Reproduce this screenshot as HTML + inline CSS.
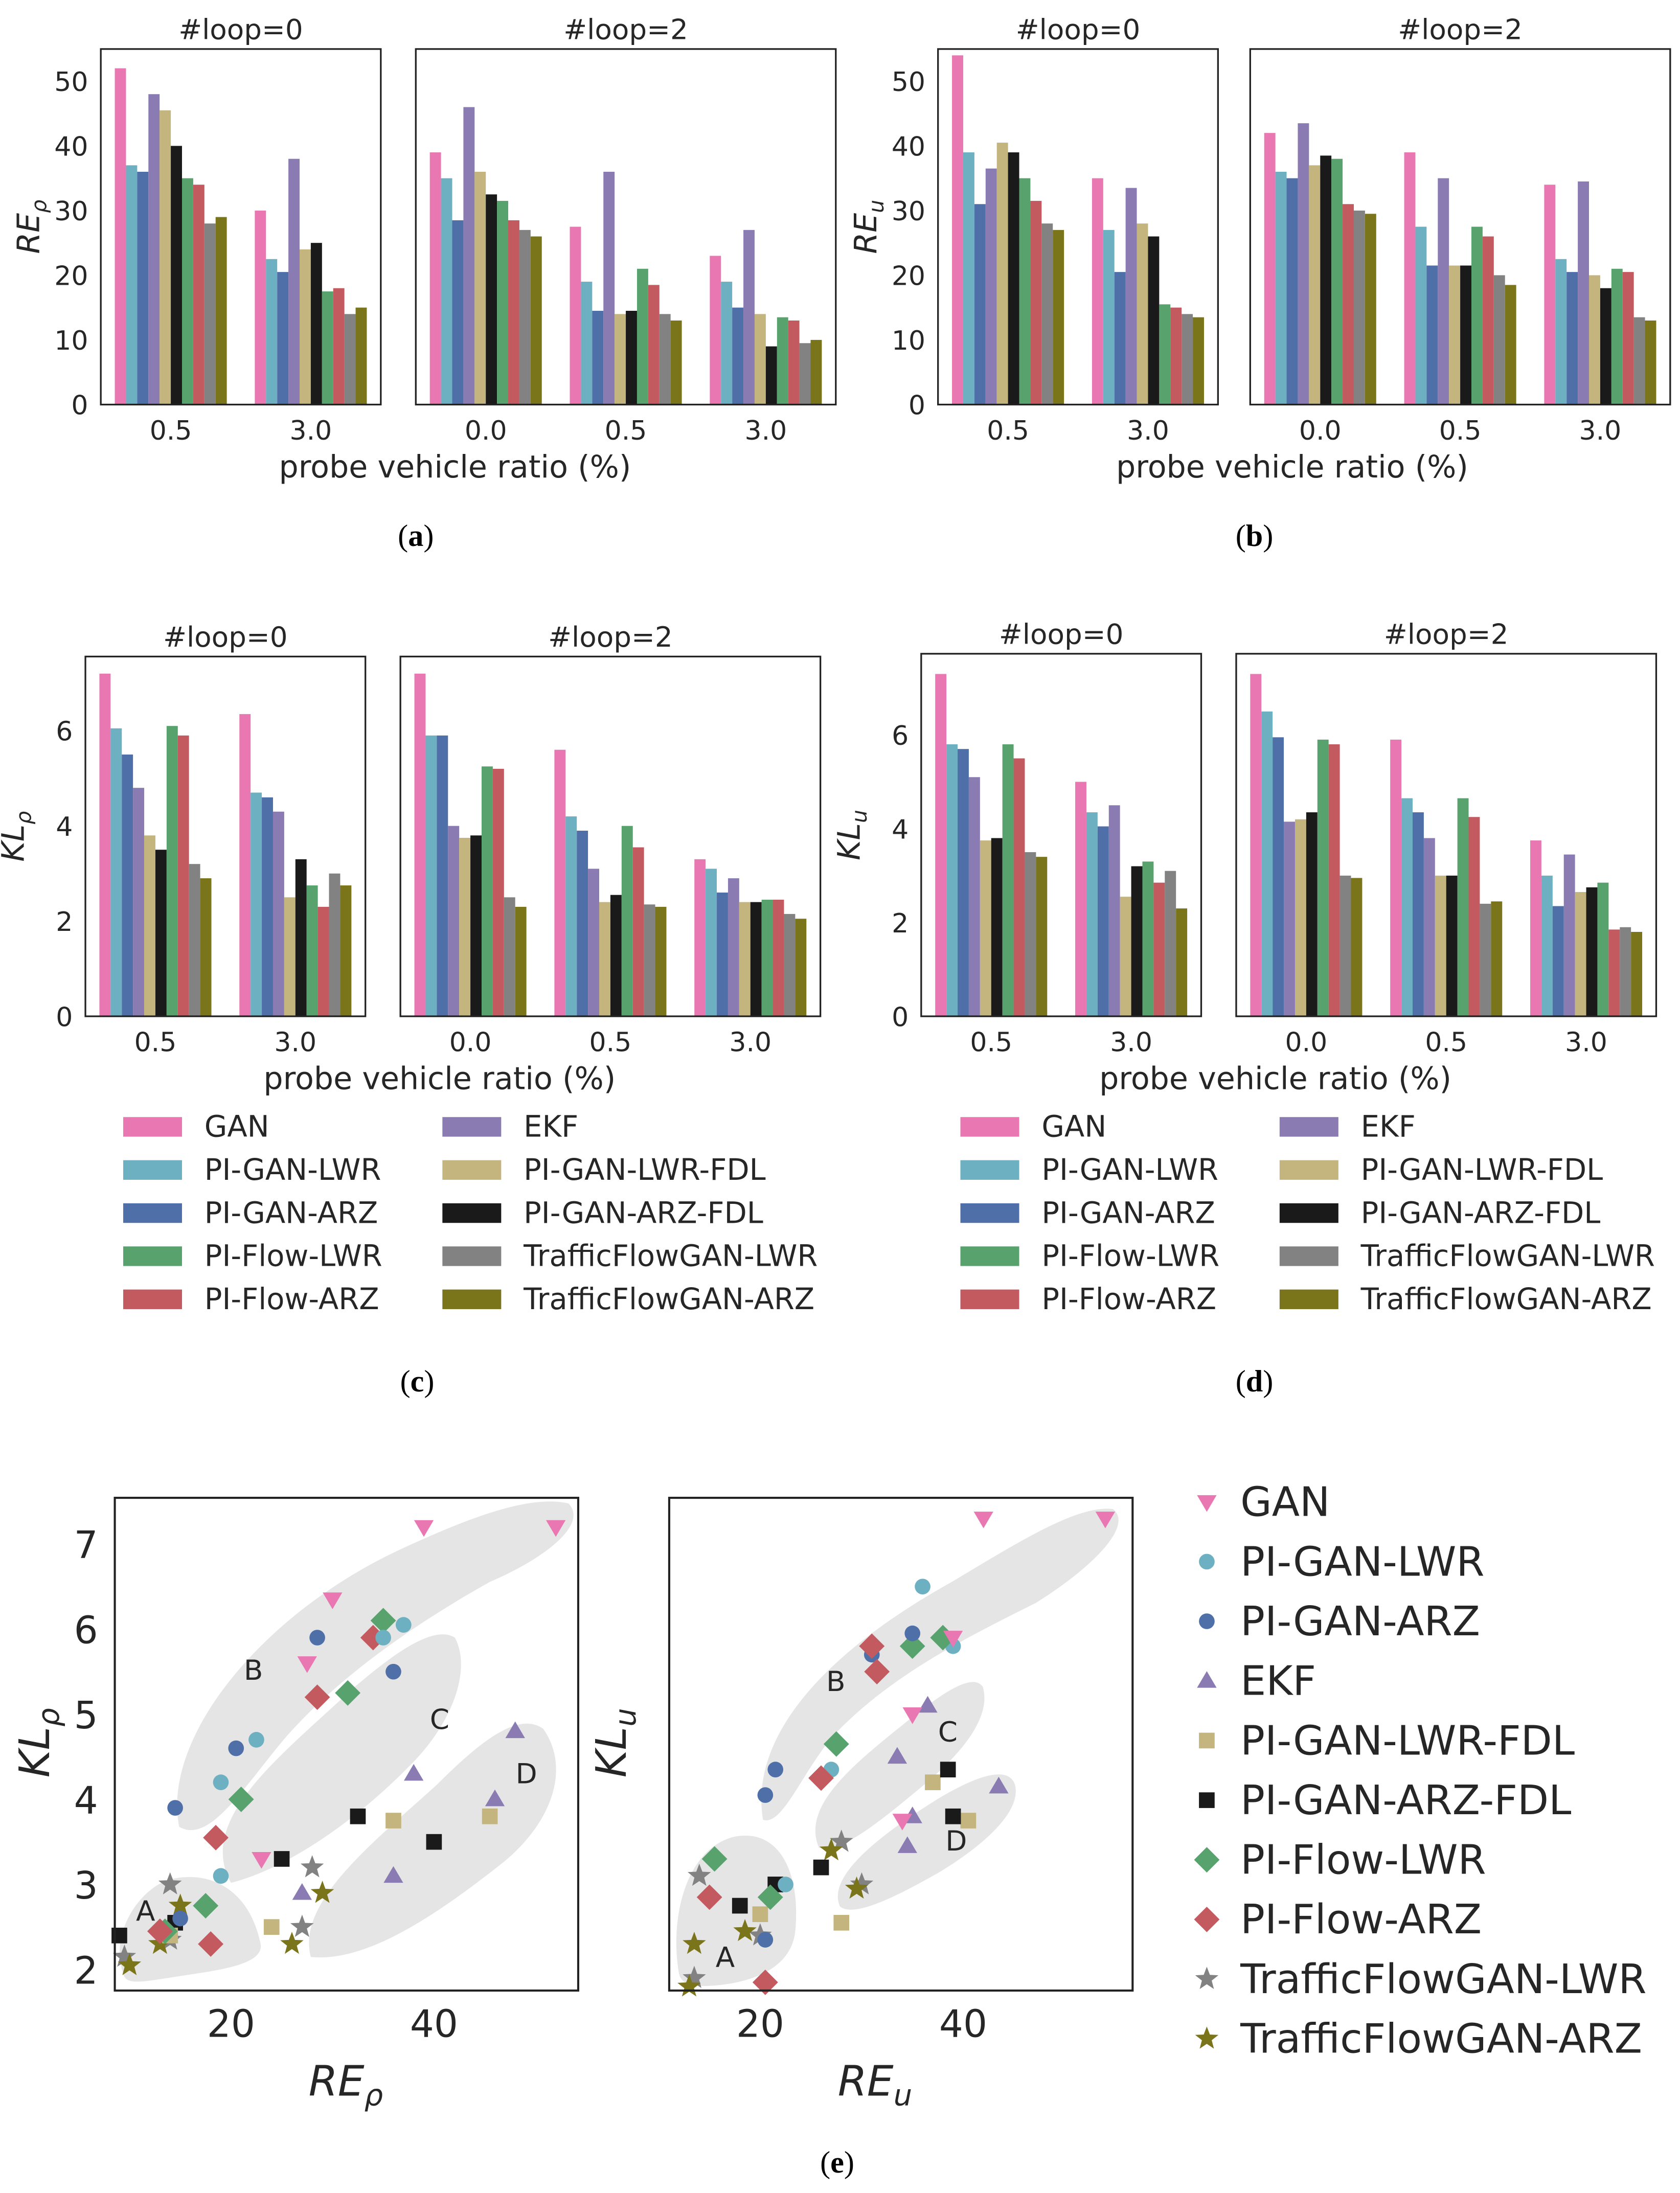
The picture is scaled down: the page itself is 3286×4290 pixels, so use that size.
<!DOCTYPE html>
<html><head><meta charset="utf-8"><style>
html,body{margin:0;padding:0;background:#fff}
svg{display:block}
text{font-family:"DejaVu Sans","Liberation Sans",sans-serif;fill:#262626}
.cap{font-family:"Liberation Serif",serif;font-size:22px;fill:#000}
</style></head><body>
<svg id="fig" xmlns="http://www.w3.org/2000/svg" width="3286" height="4290" viewBox="0 0 1200 1566.6">
<g id="blobs" fill="#e5e5e5">
<path d="M128,1305 C115,1240 190,1150 290,1105 C340,1082 380,1068 406,1074 C420,1088 392,1112 350,1130 C300,1158 245,1195 205,1240 C175,1275 150,1318 128,1305Z"/>
<path d="M165,1345 C140,1300 200,1255 250,1208 C280,1182 310,1160 325,1170 C338,1195 320,1235 292,1262 C255,1300 205,1335 165,1345Z"/>
<path d="M222,1398 C212,1360 262,1320 312,1275 C342,1245 370,1222 388,1235 C407,1262 396,1300 360,1330 C312,1368 262,1402 222,1398Z"/>
<path d="M88,1410 C78,1380 100,1350 120,1343 C150,1335 178,1350 186,1388 C190,1405 150,1408 120,1413 C100,1416 90,1418 88,1410Z"/>
<path d="M545,1300 C535,1240 590,1180 680,1130 C730,1100 770,1075 795,1078 C810,1090 780,1120 740,1145 C690,1170 640,1195 600,1235 C575,1260 560,1305 545,1300Z"/>
<path d="M585,1320 C572,1290 610,1260 650,1228 C675,1208 695,1195 702,1205 C708,1225 690,1250 660,1275 C630,1300 600,1325 585,1320Z"/>
<path d="M600,1362 C590,1340 630,1310 670,1285 C695,1270 720,1260 725,1275 C730,1295 700,1320 670,1338 C640,1355 610,1370 600,1362Z"/>
<path d="M485,1410 C478,1370 490,1320 525,1312 C558,1306 572,1340 568,1380 C565,1405 540,1415 515,1418 C495,1420 487,1418 485,1410Z"/>
</g>
</svg>
<script>
const methods=["GAN","PI-GAN-LWR","PI-GAN-ARZ","EKF","PI-GAN-LWR-FDL","PI-GAN-ARZ-FDL","PI-Flow-LWR","PI-Flow-ARZ","TrafficFlowGAN-LWR","TrafficFlowGAN-ARZ"];
const colors=["#e977b1","#6cb0c2","#4f6fa8","#8a7bb3","#c4b47e","#1a1a1a","#58a36d","#c25a60","#828282","#7a741a"];
const loop0Cats=["0.5","3.0"];
const loop2Cats=["0.0","0.5","3.0"];
// RE_rho
const reRhoL0=[[52,37,36,48,45.5,40,35,34,28,29],[30,22.5,20.5,38,24,25,17.5,18,14,15]];
const reRhoL2=[[39,35,28.5,46,36,32.5,31.5,28.5,27,26],[27.5,19,14.5,36,14,14.5,21,18.5,14,13],[23,19,15,27,14,9,13.5,13,9.5,10]];
// RE_u
const reUL0=[[54,39,31,36.5,40.5,39,35,31.5,28,27],[35,27,20.5,33.5,28,26,15.5,15,14,13.5]];
const reUL2=[[42,36,35,43.5,37,38.5,38,31,30,29.5],[39,27.5,21.5,35,21.5,21.5,27.5,26,20,18.5],[34,22.5,20.5,34.5,20,18,21,20.5,13.5,13]];
// KL_rho
const klRhoL0=[[7.2,6.05,5.5,4.8,3.8,3.5,6.1,5.9,3.2,2.9],[6.35,4.7,4.6,4.3,2.5,3.3,2.75,2.3,3.0,2.75]];
const klRhoL2=[[7.2,5.9,5.9,4.0,3.75,3.8,5.25,5.2,2.5,2.3],[5.6,4.2,3.9,3.1,2.4,2.55,4.0,3.55,2.35,2.3],[3.3,3.1,2.6,2.9,2.4,2.4,2.45,2.45,2.15,2.05]];
// KL_u
const klUL0=[[7.3,5.8,5.7,5.1,3.75,3.8,5.8,5.5,3.5,3.4],[5.0,4.35,4.05,4.5,2.55,3.2,3.3,2.85,3.1,2.3]];
const klUL2=[[7.3,6.5,5.95,4.15,4.2,4.35,5.9,5.8,3.0,2.95],[5.9,4.65,4.35,3.8,3.0,3.0,4.65,4.25,2.4,2.45],[3.75,3.0,2.35,3.45,2.65,2.75,2.85,1.85,1.9,1.8]];
const reTicks=[0,10,20,30,40,50];
const klTicks=[0,2,4,6];
const scatterXTicks=[20,40];
const scatterYTicks=[2,3,4,5,6,7];
const legendCol1=[0,1,2,6,7];
const legendCol2=[3,4,5,8,9];

const NS="http://www.w3.org/2000/svg";
const svg=document.getElementById('fig');
function mk(tag,attrs,parent,txt){const e=document.createElementNS(NS,tag);for(const k in attrs)e.setAttribute(k,attrs[k]);if(txt!==undefined)e.textContent=txt;(parent||svg).appendChild(e);return e;}

function barPanel(name,cfg){
  const g=mk('g',{});
  
  
  const ys=v=>cfg.y0-v*cfg.ppu;
  const boxes=[{x0:cfg.lx,w:200,cats:loop0Cats,data:cfg.d0,title:"#loop=0"},{x0:cfg.rx,w:300,cats:loop2Cats,data:cfg.d2,title:"#loop=2"}];
  boxes.forEach((b,bi)=>{
    b.data.forEach((grp,gi)=>{
      const c=b.x0+50+gi*100;
      grp.forEach((v,i)=>{
        const r=mk('rect',{x:c-40+i*8,y:ys(v),width:8,height:v*cfg.ppu,fill:colors[i]},g);
        
        
      });
      const t=mk('text',{x:c,y:cfg.y0+25,'font-size':19,'text-anchor':'middle'},g,b.cats[gi]);
      
      
    });
    const fr=mk('rect',{x:b.x0,y:cfg.top,width:b.w,height:cfg.y0-cfg.top,fill:'none',stroke:'#222','stroke-width':1.2},g);
    
    
    const tt=mk('text',{x:b.x0+b.w/2,y:cfg.top-7,'font-size':20,'text-anchor':'middle'},g,b.title);
    
    
  });
  cfg.ticks.forEach(v=>{
    const t=mk('text',{x:cfg.lx-9,y:ys(v)+7,'font-size':19,'text-anchor':'end'},g,String(v));
    
    
  });
  const yl=mk('text',{x:0,y:0,'font-size':22,'font-style':'italic','text-anchor':'middle',transform:`translate(${cfg.lx-44},${(cfg.top+cfg.y0)/2}) rotate(-90)`},g);
  
  
  yl.innerHTML=cfg.ylab+'<tspan font-size="15" dy="5">'+cfg.ysub+'</tspan>';
  const xl=mk('text',{x:cfg.lx+253,y:cfg.y0+52,'font-size':22,'text-anchor':'middle'},g,'probe vehicle ratio (%)');
  
  
}
barPanel('panel-a-re-rho',{lx:72,rx:297,top:35,y0:289,ppu:4.62,ticks:reTicks,d0:reRhoL0,d2:reRhoL2,ylab:'RE',ysub:'ρ'});
barPanel('panel-b-re-u',{lx:670,rx:893,top:35,y0:289,ppu:4.62,ticks:reTicks,d0:reUL0,d2:reUL2,ylab:'RE',ysub:'u'});
barPanel('panel-c-kl-rho',{lx:61,rx:286,top:469,y0:726,ppu:34,ticks:klTicks,d0:klRhoL0,d2:klRhoL2,ylab:'KL',ysub:'ρ'});
barPanel('panel-d-kl-u',{lx:658,rx:883,top:467,y0:726,ppu:33.5,ticks:klTicks,d0:klUL0,d2:klUL2,ylab:'KL',ysub:'u'});

function barLegend(name,sx1,sx2){
  const g=mk('g',{});
  
  
  [[legendCol1,sx1],[legendCol2,sx2]].forEach(([col,sx])=>{
    col.forEach((mi,r)=>{
      const y=805+r*30.8;
      const s=mk('rect',{x:sx,y:y-7,width:42,height:14,fill:colors[mi]},g);
      
      
      const t=mk('text',{x:sx+58,y:y+7,'font-size':21},g,methods[mi]);
      
      
    });
  });
}
barLegend('legend-c',88,316);
barLegend('legend-d',686,914);

[['(a)',297,390],['(b)',896,390],['(c)',298,994],['(d)',896,994],['(e)',598,1552]].forEach(([s,x,y])=>{
  const t=mk('text',{x:x,y:y,class:'cap','text-anchor':'middle'});
  
  
  t.innerHTML='('+'<tspan font-weight="bold">'+s[1]+'</tspan>)';
});

function starPts(cx,cy,R){let p=[];for(let k=0;k<10;k++){const r=k%2?R*0.42:R;const a=-Math.PI/2+k*Math.PI/5;p.push((cx+r*Math.cos(a)).toFixed(1)+','+(cy+r*Math.sin(a)).toFixed(1));}return p.join(' ');}
function marker(g,mi,x,y,s){
  let e;
  const c=colors[mi];
  if(mi===0)e=mk('polygon',{points:`${x-s},${y-s*0.7} ${x+s},${y-s*0.7} ${x},${y+s}`,fill:c},g);
  else if(mi===3)e=mk('polygon',{points:`${x-s},${y+s*0.7} ${x+s},${y+s*0.7} ${x},${y-s}`,fill:c},g);
  else if(mi===1||mi===2)e=mk('circle',{cx:x,cy:y,r:s*0.8,fill:c},g);
  else if(mi===6||mi===7)e=mk('polygon',{points:`${x},${y-s*1.3} ${x+s*1.3},${y} ${x},${y+s*1.3} ${x-s*1.3},${y}`,fill:c},g);
  else if(mi===4||mi===5)e=mk('rect',{x:x-s*0.8,y:y-s*0.8,width:s*1.6,height:s*1.6,fill:c},g);
  else e=mk('polygon',{points:starPts(x,y,s*1.25),fill:c},g);
  return e;
}
function scatter(name,x0,boxOff,reL0,reL2,klL0,klL2,xsub,ysub,letters){
  const g=mk('g',{});
  
  
  const xs=v=>x0+(v-20)*7.25;
  const ys=v=>1407-(v-2)*60.8;
  const re=reL0.concat(reL2), kl=klL0.concat(klL2);
  re.forEach((grp,gi)=>grp.forEach((v,i)=>{
    const m=marker(g,i,xs(v),ys(kl[gi][i]),7);
    
    
  }));
  const fr=mk('rect',{x:x0-boxOff,y:1070,width:331,height:352,fill:'none',stroke:'#222','stroke-width':1.5},g);
  
  
  scatterXTicks.forEach(v=>{
    const t=mk('text',{x:xs(v),y:1455,'font-size':27,'text-anchor':'middle'},g,String(v));
    
    
  });
  if(x0<300)scatterYTicks.forEach(v=>{
    const t=mk('text',{x:70,y:ys(v)+10,'font-size':27,'text-anchor':'end'},g,String(v));
    
    
  });
  const xl=mk('text',{x:x0+82,y:1497,'font-size':30,'font-style':'italic','text-anchor':'middle'},g);
  
  
  xl.innerHTML='RE<tspan font-size="21" dy="7">'+xsub+'</tspan>';
  const yx=x0<300?35:447;
  const yl=mk('text',{x:0,y:0,'font-size':30,'font-style':'italic','text-anchor':'middle',transform:`translate(${yx},1245) rotate(-90)`},g);
  
  
  yl.innerHTML='KL<tspan font-size="21" dy="7">'+ysub+'</tspan>';
  letters.forEach(([s,x,y])=>{
    const t=mk('text',{x:x,y:y,'font-size':20,'text-anchor':'middle',fill:'#000'},g,s);
    
    
  });
}
scatter('scatter-rho',165,83,reRhoL0,reRhoL2,klRhoL0,klRhoL2,'ρ','ρ',[['A',104,1372],['B',181,1200],['C',314,1235],['D',376,1274]]);
scatter('scatter-u',543,65,reUL0,reUL2,klUL0,klUL2,'u','u',[['A',518,1405],['B',597,1208],['C',677,1244],['D',683,1322]]);

const lg=mk('g',{});


methods.forEach((m,i)=>{
  const y=1073+i*42.6;
  const mm=marker(lg,i,862,y,7);
  
  
  const t=mk('text',{x:886,y:y+10,'font-size':29},lg,m);
  
  
});
</script>
</body></html>
